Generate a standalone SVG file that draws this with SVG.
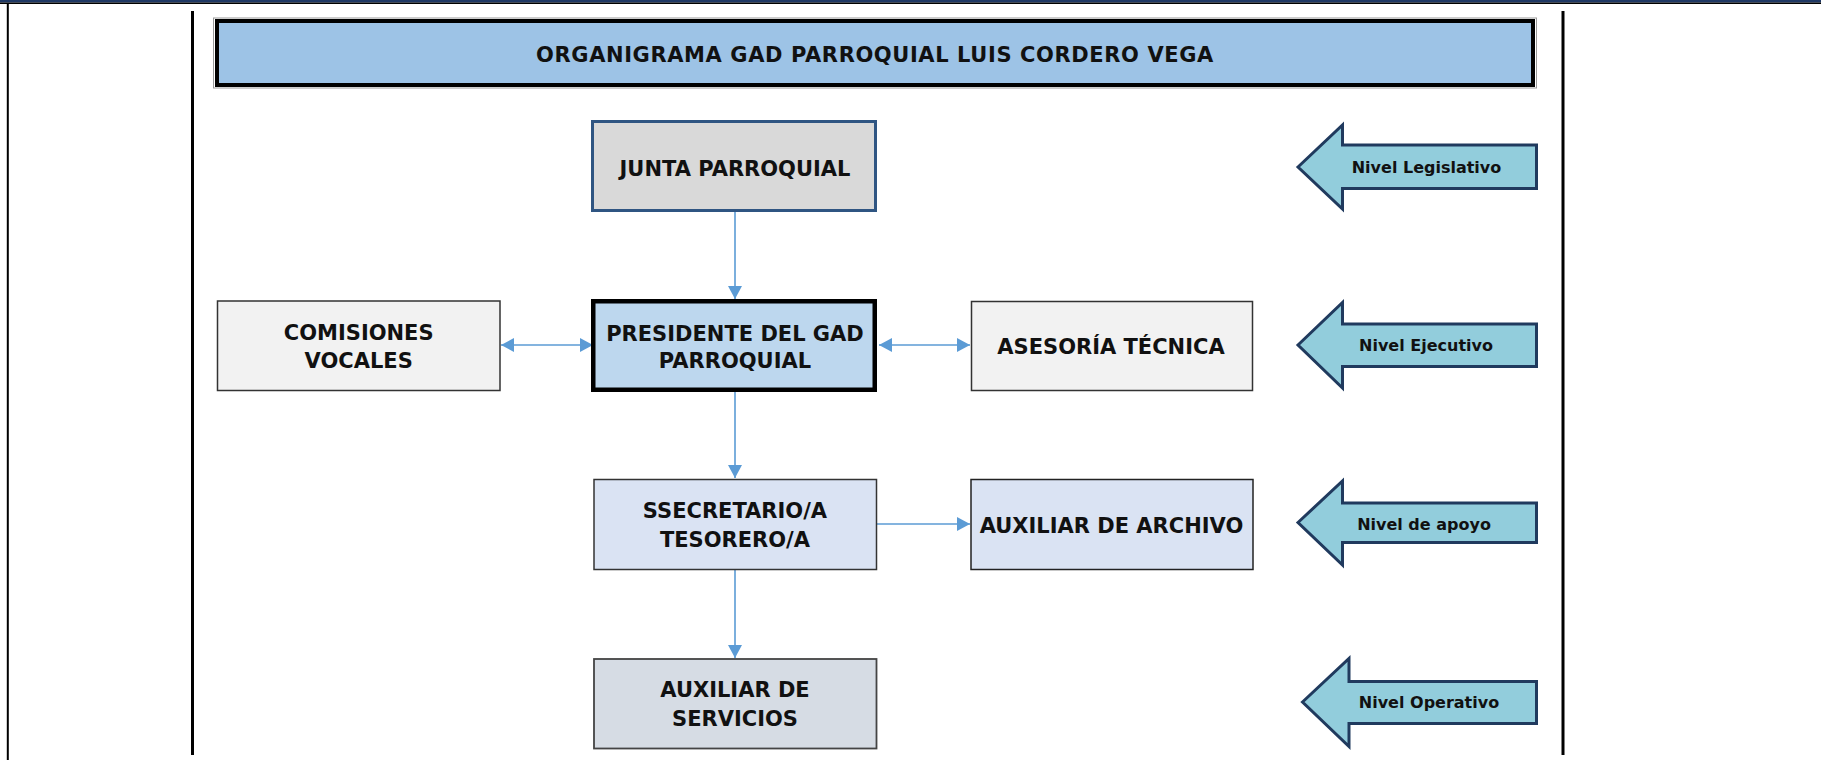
<svg xmlns="http://www.w3.org/2000/svg" width="1821" height="760" viewBox="0 0 1821 760">
<style>
.box{font-family:"DejaVu Sans","Liberation Sans",sans-serif;font-weight:bold;font-size:21px;fill:#111;text-anchor:middle}
.lvl{font-family:"DejaVu Sans","Liberation Sans",sans-serif;font-weight:bold;font-size:16px;fill:#111;text-anchor:middle}
.title{font-family:"DejaVu Sans","Liberation Sans",sans-serif;font-weight:bold;font-size:21px;fill:#111;text-anchor:middle;letter-spacing:0.6px}
.lvlarrow{fill:#92CDDC;stroke:#203A5E;stroke-width:3;stroke-linejoin:miter}
.conn{stroke:#5B9BD5;stroke-width:1.6;fill:none}
</style>
<defs>
<marker id="ah" viewBox="0 0 13 14" refX="13" refY="7" markerWidth="13" markerHeight="14" markerUnits="userSpaceOnUse" orient="auto-start-reverse">
<path d="M0,0 L13,7 L0,14 Z" fill="#5B9BD5"/>
</marker>
</defs>
<rect x="0" y="0" width="1821" height="760" fill="#ffffff"/>
<g id="frame">
<rect x="0" y="0" width="1821" height="2.5" fill="#1F3864"/>
<rect x="0" y="2.5" width="1821" height="1.5" fill="#000"/>
<rect x="6.8" y="3" width="2" height="757" fill="#000"/>
<rect x="191" y="11" width="3" height="744" fill="#000"/>
<rect x="1561.5" y="11" width="3" height="744" fill="#000"/>
</g>
<g id="title">
<rect x="213.5" y="18" width="1323" height="70" fill="none" stroke="#9a9a9a" stroke-width="1"/>
<rect x="217" y="21" width="1316" height="64" fill="#9DC3E6" stroke="#000" stroke-width="4"/>
<text class="title" x="875" y="61.8">ORGANIGRAMA GAD PARROQUIAL LUIS CORDERO VEGA</text>
</g>
<g id="connectors">
<line class="conn" x1="735" y1="212" x2="735" y2="299" marker-end="url(#ah)"/>
<line class="conn" x1="735" y1="392" x2="735" y2="478" marker-end="url(#ah)"/>
<line class="conn" x1="735" y1="570" x2="735" y2="658" marker-end="url(#ah)"/>
<line class="conn" x1="501" y1="345" x2="593" y2="345" marker-start="url(#ah)" marker-end="url(#ah)"/>
<line class="conn" x1="879" y1="345" x2="970" y2="345" marker-start="url(#ah)" marker-end="url(#ah)"/>
<line class="conn" x1="877" y1="524" x2="970" y2="524" marker-end="url(#ah)"/>
</g>
<g id="junta">
<rect x="592.5" y="121.5" width="283" height="89" fill="#D9D9D9" stroke="#2F5582" stroke-width="3"/>
<text class="box" x="735" y="175.7">JUNTA PARROQUIAL</text>
</g>
<g id="presidente">
<rect x="593.25" y="301.25" width="281.5" height="88.5" fill="#BDD7EE" stroke="#000" stroke-width="4.5"/>
<text class="box" x="735" y="340.5">PRESIDENTE DEL GAD</text>
<text class="box" x="735" y="368.3">PARROQUIAL</text>
</g>
<g id="comisiones">
<rect x="217.5" y="301" width="282.5" height="89.5" fill="#F2F2F2" stroke="#333" stroke-width="1.5"/>
<text class="box" x="358.7" y="340">COMISIONES</text>
<text class="box" x="358.7" y="368">VOCALES</text>
</g>
<g id="asesoria">
<rect x="971.5" y="301.5" width="281" height="89" fill="#F2F2F2" stroke="#333" stroke-width="1.5"/>
<text class="box" x="1111" y="354">ASESORÍA TÉCNICA</text>
</g>
<g id="secretario">
<rect x="594" y="479.5" width="282.5" height="90" fill="#DAE3F3" stroke="#333" stroke-width="1.5"/>
<text class="box" x="735" y="517.7">SSECRETARIO/A</text>
<text class="box" x="735" y="546.7">TESORERO/A</text>
</g>
<g id="archivo">
<rect x="971" y="479.5" width="282" height="90" fill="#DAE3F3" stroke="#222" stroke-width="1.5"/>
<text class="box" x="1111.5" y="533">AUXILIAR DE ARCHIVO</text>
</g>
<g id="servicios">
<rect x="594" y="659" width="282.5" height="89.5" fill="#D6DCE4" stroke="#444" stroke-width="1.8"/>
<text class="box" x="735" y="697">AUXILIAR DE</text>
<text class="box" x="735" y="726">SERVICIOS</text>
</g>
<g id="nivel-legislativo">
<path class="lvlarrow" d="M1298,167 L1342.5,125 L1342.5,145 L1536.5,145 L1536.5,188.5 L1342.5,188.5 L1342.5,209 Z"/>
<text class="lvl" x="1426.5" y="173.3">Nivel Legislativo</text>
</g>
<g id="nivel-ejecutivo">
<path class="lvlarrow" d="M1298,345 L1342.5,302.5 L1342.5,324 L1536.5,324 L1536.5,366.5 L1342.5,366.5 L1342.5,388 Z"/>
<text class="lvl" x="1426" y="350.7">Nivel Ejecutivo</text>
</g>
<g id="nivel-apoyo">
<path class="lvlarrow" d="M1298,522.5 L1342.5,481 L1342.5,503 L1536.5,503 L1536.5,542.5 L1342.5,542.5 L1342.5,565 Z"/>
<text class="lvl" x="1424" y="529.5">Nivel de apoyo</text>
</g>
<g id="nivel-operativo">
<path class="lvlarrow" d="M1302.5,702 L1349,658.5 L1349,681.5 L1536.5,681.5 L1536.5,723.5 L1349,723.5 L1349,746.5 Z"/>
<text class="lvl" x="1429" y="708">Nivel Operativo</text>
</g>
</svg>
